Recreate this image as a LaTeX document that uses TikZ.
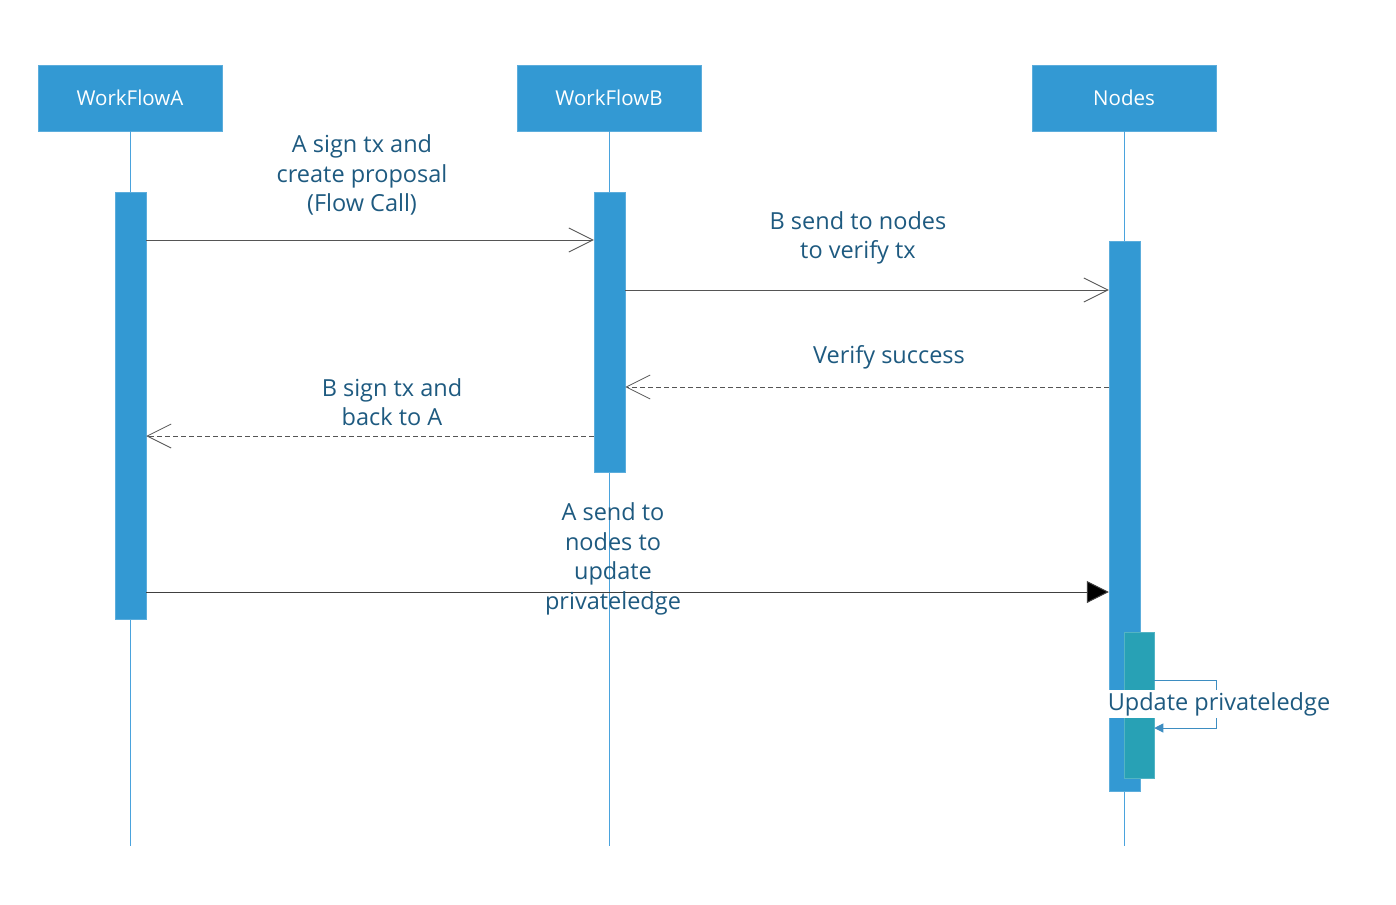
\documentclass[tikz,border=0pt]{standalone}
\usepackage{fontspec}
\setmainfont{Open Sans}
\usetikzlibrary{arrows.meta}
\definecolor{hdr}{HTML}{3399D3}
\definecolor{life}{HTML}{4AA3DD}
\definecolor{txt}{HTML}{1E5A80}
\definecolor{teal}{HTML}{28A1B5}
\definecolor{msg}{HTML}{555555}
\tikzset{
  header/.style={fill=hdr, draw=hdr!80!white, minimum width=184pt, minimum height=66pt, inner sep=0pt, text=white, font=\fontsize{20.5}{24}\selectfont},
  lifeline/.style={draw=life, line width=1pt},
  act/.style={fill=hdr, draw=hdr!80!white, line width=0.5pt},
  msgline/.style={draw=msg, line width=1pt},
  openarrow/.style={-{Straight Barb[length=24pt,width=24pt,line width=0.8pt]}},
  filledarrow/.style={-{Triangle[length=22pt,width=22pt,fill=black]}},
  lbl/.style={text=txt, align=center, font=\fontsize{23.5}{29.5}\selectfont, inner sep=0pt},
}
\begin{document}
\begin{tikzpicture}[x=1pt,y=-1pt]
\useasboundingbox (0,0) rectangle (1396,904);
% headers
\node[header] (hA) at (130,98) {WorkFlowA};
\node[header] (hB) at (609,98) {WorkFlowB};
\node[header] (hN) at (1124,98) {Nodes};
% lifeline ends
\coordinate (eA) at (130,846);
\coordinate (eB) at (609,846);
\coordinate (eN) at (1124,846);
\draw[lifeline] (hA.south) -- (eA);
\draw[lifeline] (hB.south) -- (eB);
\draw[lifeline] (hN.south) -- (eN);
% activations
\node[act, minimum width=31pt, minimum height=427pt, inner sep=0pt, anchor=north] (aA) at (130.5,192) {};
\node[act, minimum width=31pt, minimum height=280pt, inner sep=0pt, anchor=north] (aB) at (609.5,192) {};
\node[act, minimum width=31pt, minimum height=550pt, inner sep=0pt, anchor=north] (aN) at (1124.5,241) {};
\node[fill=teal, draw=teal!80!white, line width=0.5pt, minimum width=30pt, minimum height=146pt, inner sep=0pt, anchor=north] (tN) at (1139,632) {};
% message 1
\coordinate (m1s) at (aA.east |- 0,240);
\coordinate (m1e) at (aB.west |- 0,240);
\draw[msgline, openarrow] (m1s) -- (m1e);
\node[lbl] (l1) at (362,175) {A sign tx and\\create proposal\\(Flow Call)};
% message 2
\coordinate (m2s) at (aB.east |- 0,290);
\coordinate (m2e) at (aN.west |- 0,290);
\draw[msgline, openarrow] (m2s) -- (m2e);
\node[lbl] (l2) at (858,238) {B send to nodes\\to verify tx};
% message 3
\coordinate (m3s) at (aN.west |- 0,387);
\coordinate (m3e) at (aB.east |- 0,387);
\draw[msgline, dashed, dash pattern=on 5pt off 3pt, openarrow] (m3s) -- (m3e);
\node[lbl] (l3) at (889,357) {Verify success};
% message 4
\coordinate (m4s) at (aB.west |- 0,436);
\coordinate (m4e) at (aA.east |- 0,436);
\draw[msgline, dashed, dash pattern=on 5pt off 3pt, openarrow] (m4s) -- (m4e);
\node[lbl] (l4) at (392,402) {B sign tx and\\back to A};
% message 5
\coordinate (m5s) at (aA.east |- 0,592);
\coordinate (m5e) at (aN.west |- 0,592);
\draw[msgline, draw=black!75, filledarrow] (m5s) -- (m5e);
\node[lbl] (l5) at (613,559) {A send to\\nodes to\\update\\privateledge};
% self call
\coordinate (s1) at (tN.east |- 0,680);
\coordinate (s2) at (1216,680);
\coordinate (s3) at (1216,728);
\coordinate (s4) at (tN.east |- 0,728);
\draw[draw=life!70!txt, line width=1pt, -{Triangle[length=9pt,width=9pt]}] (s1) -- (s2) -- (s3) -- (s4);
\node[lbl, fill=white, inner xsep=1pt, inner ysep=2pt] (l6) at (1219,704) {Update privateledge};
\end{tikzpicture}
\end{document}
